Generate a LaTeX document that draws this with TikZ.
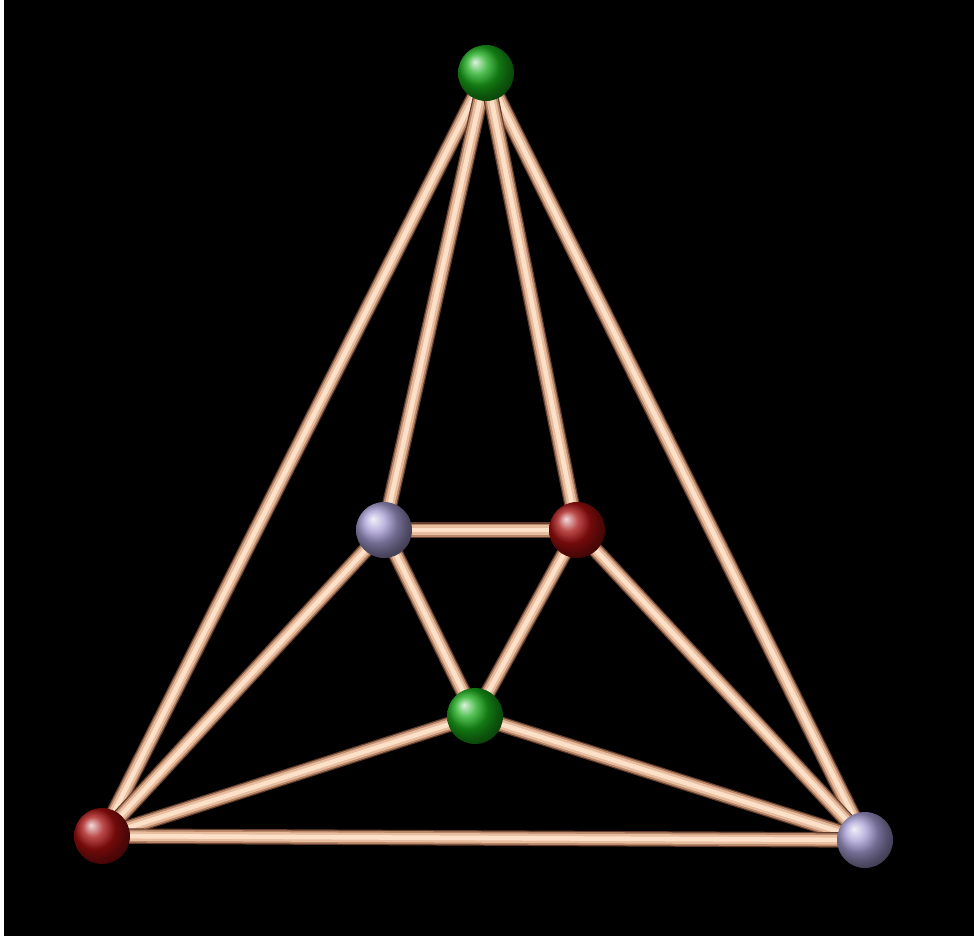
\documentclass[tikz,border=0pt]{standalone}
\usetikzlibrary{backgrounds, shadings}
\definecolor{RodEdge}{RGB}{100, 62, 45}
\definecolor{RodDark}{RGB}{185, 135, 105}
\definecolor{RodMid}{RGB}{232, 188, 158}
\definecolor{RodLight}{RGB}{252, 225, 200}
\definecolor{BallGreen}{RGB}{25, 170, 25}
\definecolor{BallRed}{RGB}{165, 15, 15}
\definecolor{BallLilac}{RGB}{165, 155, 210}

\begin{document}
\begin{tikzpicture}[
    ball/.style={circle, inner sep=0pt, minimum size=0.56cm, shading=ball},
    green/.style={ball, ball color=BallGreen},
    red/.style={ball, ball color=BallRed},
    lilac/.style={ball, ball color=BallLilac},
    rod/.style={draw=RodEdge, line width=4.4pt,
                postaction={draw=RodDark, line width=3.7pt},
                postaction={draw=RodMid, line width=2.7pt},
                postaction={draw=RodLight, line width=1.3pt}}
    ]
    \useasboundingbox (0,0) rectangle (9.74,-9.36);

    \node[green] (top)  at (4.86,-0.73) {};
    \node[lilac] (lil)  at (3.84,-5.30) {};
    \node[red]   (rdm)  at (5.77,-5.30) {};
    \node[green] (mid)  at (4.75,-7.16) {};
    \node[red]   (bl)   at (1.02,-8.36) {};
    \node[lilac] (br)   at (8.65,-8.40) {};

    \begin{scope}[on background layer]
      % frame
      \fill[white] (0,0) rectangle (9.74,-9.36);
      \fill[black] (0.04,0) rectangle (9.74,-9.36);
      \foreach \a/\b in {top/bl, top/br, top/lil, top/rdm, lil/rdm, lil/mid,
                         rdm/mid, lil/bl, rdm/br, mid/bl, mid/br, bl/br}
        \path[rod] (\a.center) -- (\b.center);
    \end{scope}
\end{tikzpicture}
\end{document}
